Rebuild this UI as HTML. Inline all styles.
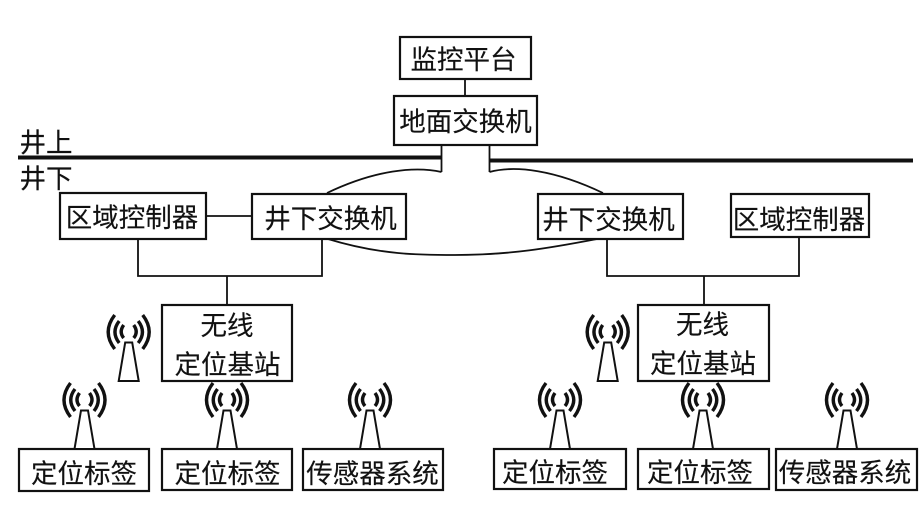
<!DOCTYPE html>
<html lang="zh">
<head>
<meta charset="utf-8">
<style>
html,body{margin:0;padding:0;background:#fff;width:924px;height:527px;overflow:hidden}
svg{display:block}
text{font-family:"Liberation Sans","Noto Sans CJK SC",sans-serif;font-size:26.5px;fill:#111;text-anchor:middle;stroke:#111;stroke-width:.15}
.b{fill:#fff;stroke:#111;stroke-width:2.200}
.l{fill:none;stroke:#111;stroke-width:1.800}
.a{fill:none;stroke:#111;stroke-width:3.400}
</style>
</head>
<body>
<svg width="924" height="527" viewBox="0 0 924 527" xmlns="http://www.w3.org/2000/svg">
<defs>
<g id="ant">
<path class="a" d="M-5,-6 Q-10,1 -5,7 M5,-6 Q10,1 5,7"/>
<path class="a" d="M-9.500,-10 Q-18,1 -9.500,12 M9.500,-10 Q18,1 9.500,12"/>
<path class="a" d="M-14,-16 Q-27,1 -14,18 M14,-16 Q27,1 14,18"/>
<path d="M-3.500,11.500 H3.500 L10,50 H-10 Z" fill="#fff" stroke="#111" stroke-width="2"/>
</g>
</defs>
<rect width="924" height="527" fill="#fff"/>

<path class="l" d="M465,79V96"/>
<path d="M18,157.500H442" stroke="#111" stroke-width="4" fill="none"/>
<path d="M489,160.500H913" stroke="#111" stroke-width="4" fill="none"/>
<path class="l" d="M441.500,145V172"/>
<path class="l" d="M489.500,145V172"/>
<path class="l" d="M441.500,172C415,166 375,170 327,193"/>
<path class="l" d="M489.500,172C515,165 555,170 603,193"/>
<path class="l" d="M328,239C380,255 420,255 455,255C510,255 550,248 597,239"/>
<path class="l" d="M206,216H252"/>
<path class="l" d="M138,239V276H322V239"/>
<path class="l" d="M227,276V305"/>
<path class="l" d="M607,239V276H799V237"/>
<path class="l" d="M704,276V305"/>

<rect class="b" x="400" y="37" width="131" height="42"/>
<rect class="b" x="394" y="96" width="143" height="49"/>
<rect class="b" x="60" y="193" width="146" height="46"/>
<rect class="b" x="252" y="194" width="154" height="45"/>
<rect class="b" x="538" y="194" width="145" height="45"/>
<rect class="b" x="731" y="194" width="138" height="43"/>
<rect class="b" x="162" y="305" width="130" height="76"/>
<rect class="b" x="638" y="305" width="131" height="76"/>
<rect class="b" x="19" y="449" width="130" height="42"/>
<rect class="b" x="162" y="449" width="130" height="41"/>
<rect class="b" x="303" y="449" width="140" height="41" stroke-width="2.800"/>
<rect class="b" x="494" y="449" width="132" height="40"/>
<rect class="b" x="638" y="449" width="131" height="40"/>
<rect class="b" x="776" y="449" width="141" height="41" stroke-width="2.800"/>

<use href="#ant" x="128.700" y="331"/>
<use href="#ant" x="84.500" y="399"/>
<use href="#ant" x="227" y="399"/>
<use href="#ant" x="370" y="399"/>
<use href="#ant" x="607.700" y="331"/>
<use href="#ant" x="560" y="399"/>
<use href="#ant" x="703" y="399"/>
<use href="#ant" x="847" y="399"/>

<text x="463.500" y="69">监控平台</text>
<text x="465.500" y="131">地面交换机</text>
<text x="46" y="152">井上</text>
<text x="46" y="188">井下</text>
<text x="132" y="227">区域控制器</text>
<text x="330.500" y="228">井下交换机</text>
<text x="608.500" y="229">井下交换机</text>
<text x="799" y="229">区域控制器</text>
<text x="227" y="335">无线</text>
<text x="227.500" y="374">定位基站</text>
<text x="702.500" y="334">无线</text>
<text x="703" y="373">定位基站</text>
<text x="84" y="483">定位标签</text>
<text x="227.500" y="483">定位标签</text>
<text x="372.500" y="483">传感器系统</text>
<text x="555" y="482">定位标签</text>
<text x="700" y="482">定位标签</text>
<text x="845" y="482">传感器系统</text>
</svg>
</body>
</html>
